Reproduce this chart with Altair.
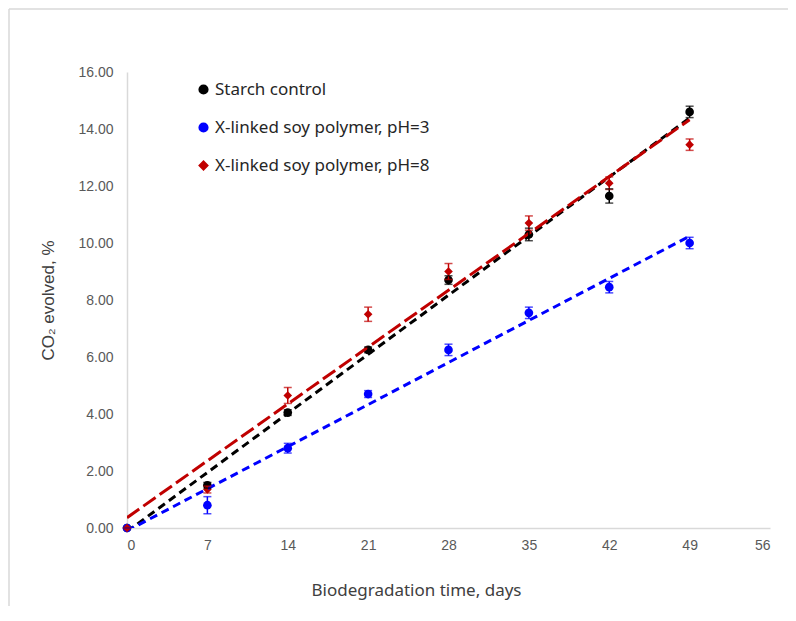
import altair as alt
import pandas as pd

days = [0, 7, 14, 21, 28, 35, 42, 49]
series_names = ["Starch control", "X-linked soy polymer, pH=3", "X-linked soy polymer, pH=8"]
starch = [0.0, 1.50, 4.05, 6.25, 8.70, 10.30, 11.65, 14.60]
starch_err = [0.0, 0.10, 0.10, 0.10, 0.15, 0.22, 0.25, 0.20]
ph3 = [0.0, 0.80, 2.80, 4.70, 6.25, 7.55, 8.45, 10.00]
ph3_err = [0.0, 0.30, 0.17, 0.12, 0.20, 0.20, 0.20, 0.20]
ph8 = [0.0, 1.35, 4.65, 7.50, 9.00, 10.70, 12.10, 13.45]
ph8_err = [0.0, 0.12, 0.28, 0.25, 0.28, 0.25, 0.22, 0.20]
colors = ["#000000", "#0000FF", "#C00000"]
shapes = ["circle", "circle", "diamond"]
y_ticks = [0, 2, 4, 6, 8, 10, 12, 14, 16]
x_ticks = [0, 7, 14, 21, 28, 35, 42, 49, 56]

rows = []
for name, vals, errs in zip(series_names, [starch, ph3, ph8], [starch_err, ph3_err, ph8_err]):
    for d, v, e in zip(days, vals, errs):
        rows.append({"series": name, "day": d, "value": v, "lo": v - e, "hi": v + e})
df = pd.DataFrame(rows)

tick_font = "Liberation Sans"
text_font = "Noto Sans"

xscale = alt.Scale(domain=[0, 56], nice=False)
yscale = alt.Scale(domain=[0, 16], nice=False)
color = alt.Color("series:N", scale=alt.Scale(domain=series_names, range=colors),
                  legend=alt.Legend(title=None))
shape = alt.Shape("series:N", scale=alt.Scale(domain=series_names, range=shapes),
                  legend=alt.Legend(title=None))

x_enc = alt.X("day:Q", scale=xscale,
              axis=alt.Axis(values=x_ticks, title="Biodegradation time, days", grid=False,
                            ticks=False, labelPadding=10, titleX=289, titleY=62,
                            titleBaseline="middle"))
y_enc = alt.Y("value:Q", scale=yscale,
              axis=alt.Axis(values=y_ticks, format=".2f", title="CO₂ evolved, %", grid=False,
                            ticks=False, labelPadding=14, titleX=-79, titleY=228,
                            titleBaseline="middle", titleFont=tick_font, titleFontSize=17))

base = alt.Chart(df)
nolegend_color = alt.Color("series:N", scale=alt.Scale(domain=series_names, range=colors), legend=None)

err_rule = base.mark_rule(strokeWidth=1.5).encode(
    x="day:Q", y=alt.Y("lo:Q", scale=yscale), y2="hi:Q", color=nolegend_color)
cap_lo = base.mark_tick(orient="horizontal", thickness=1.5, size=8).encode(
    x="day:Q", y=alt.Y("lo:Q", scale=yscale), color=nolegend_color)
cap_hi = base.mark_tick(orient="horizontal", thickness=1.5, size=8).encode(
    x="day:Q", y=alt.Y("hi:Q", scale=yscale), color=nolegend_color)

dashes = [[8, 5], [8, 5], [15, 5]]
lines = []
for name, col, dash in zip(series_names, colors, dashes):
    lines.append(
        base.transform_filter(alt.datum.series == name)
        .transform_regression("day", "value", extent=[0, 49])
        .mark_line(color=col, strokeDash=dash, strokeWidth=3, clip=True)
        .encode(x=alt.X("day:Q", scale=xscale), y=alt.Y("value:Q", scale=yscale))
    )

points = base.mark_point(filled=True, opacity=1, size=75).encode(
    x=x_enc, y=y_enc, color=color, shape=shape)

frame_top = alt.Chart(pd.DataFrame({"a": [0]})).mark_rule(color="#d9d9d9", strokeWidth=1.5).encode(
    x=alt.value(-118), x2=alt.value(670), y=alt.value(-63))
frame_left = alt.Chart(pd.DataFrame({"a": [0]})).mark_rule(color="#d9d9d9", strokeWidth=1.5).encode(
    x=alt.value(-118), x2=alt.value(-118), y=alt.value(-63), y2=alt.value(550))

chart = alt.layer(points, *lines, err_rule, cap_lo, cap_hi, frame_top, frame_left).resolve_scale(
    color="shared", shape="shared"
).properties(
    width=643, height=456,
    autosize=alt.AutoSizeParams(type="none"),
    padding={"left": 119, "top": 64, "right": 18, "bottom": 78},
    background="white",
).configure_view(stroke=None).configure_axis(
    domainColor="#d9d9d9", domainWidth=1.5,
    labelFont=tick_font, labelFontSize=14, labelColor="#595959",
    titleFont=text_font, titleFontSize=17, titleFontWeight="normal", titleColor="#404040",
).configure_legend(
    orient="none", legendX=68, legendY=9, labelFont=text_font, labelFontSize=17,
    labelColor="#262626", symbolSize=75, rowPadding=20, labelOffset=3, labelLimit=0,
)

chart.save("out.html", embed_options={"renderer": "svg", "actions": False})
